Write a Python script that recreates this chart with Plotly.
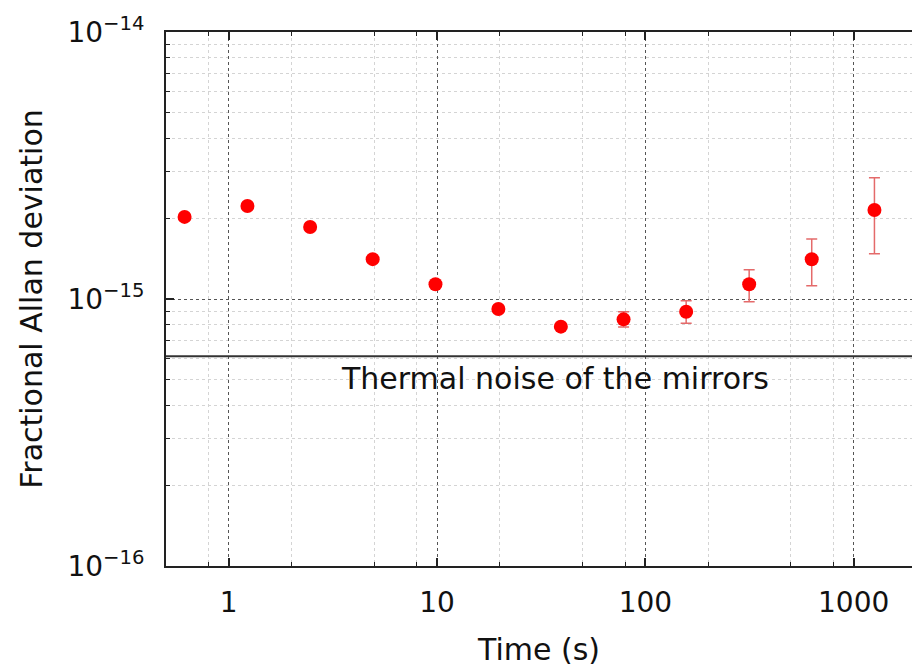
import math
import plotly.graph_objects as go

# Averaging time (s) and fractional Allan deviation
tau = [0.614, 1.23, 2.46, 4.91, 9.83, 19.7, 39.3, 78.6, 157, 315, 629, 1258]
adev = [2.03e-15, 2.23e-15, 1.86e-15, 1.41e-15, 1.135e-15, 9.17e-16,
        7.88e-16, 8.39e-16, 8.96e-16, 1.135e-15, 1.408e-15, 2.155e-15]
err_plus = [0, 0, 0, 0, 0, 0, 0, 0.57e-16, 0.89e-16, 1.52e-16, 2.70e-16, 6.92e-16]
err_minus = [0, 0, 0, 0, 0, 0, 0, 0.53e-16, 0.85e-16, 1.58e-16, 2.87e-16, 6.77e-16]

# Thermal noise floor of the cavity mirrors
thermal_floor = 6.1e-16
thermal_label = "Thermal noise of the mirrors"

# Axis ticks
x_tickvals = [1, 10, 100, 1000]
x_ticktext = ["1", "10", "100", "1000"]
x_minorvals = [0.8, 2, 5, 8, 20, 50, 80, 200, 500, 800]
y_tickvals = [1e-16, 1e-15, 1e-14]
y_ticktext = ["10<sup>\u221216</sup>", "10<sup>\u221215</sup>", "10<sup>\u221214</sup>"]
y_minorvals = [m * 1e-16 for m in range(2, 10)] + [m * 1e-15 for m in range(2, 10)]

FONT = "DejaVu Sans"
x_range = [math.log10(0.5), math.log10(0.5) + 3.581]

fig = go.Figure()

fig.add_trace(go.Scatter(
    x=tau, y=adev, mode="markers",
    marker=dict(color="#ff0000", size=14, line=dict(width=0)),
    error_y=dict(type="data", symmetric=False, array=err_plus, arrayminus=err_minus,
                 color="#e46a6a", thickness=1.5, width=5.5),
    showlegend=False,
))

fig.add_trace(go.Scatter(
    x=[10 ** x_range[0], 10 ** x_range[1]], y=[thermal_floor, thermal_floor],
    mode="lines", line=dict(color="#333333", width=2),
    showlegend=False, hoverinfo="skip",
))

fig.add_annotation(
    x=0.5214, xref="paper", y=math.log10(thermal_floor), yref="y",
    yanchor="top", xanchor="center", yshift=-3,
    text=thermal_label, showarrow=False,
    font=dict(family=FONT, size=30, color="#111111"),
)

axis_common = dict(
    type="log",
    showline=True, linecolor="#222222", linewidth=2,
    ticks="inside", ticklen=8, tickwidth=1.5, tickcolor="#222222",
    showgrid=True, gridcolor="#555555", griddash="dot", gridwidth=1,
    tickfont=dict(family=FONT, size=28, color="#111111"),
    zeroline=False,
)

fig.update_xaxes(
    **axis_common,
    mirror="ticks",
    range=x_range,
    tickmode="array", tickvals=x_tickvals, ticktext=x_ticktext,
    ticklabelstandoff=10,
    minor=dict(tickmode="array", tickvals=x_minorvals, ticks="inside", ticklen=4,
               tickwidth=1.2, tickcolor="#222222",
               showgrid=True, gridcolor="#d4d4d4", griddash="dot", gridwidth=1),
    title=dict(text="Time (s)", font=dict(family=FONT, size=30, color="#111111"), standoff=21),
)

fig.update_yaxes(
    **axis_common,
    mirror=False,
    range=[-16, -14],
    tickmode="array", tickvals=y_tickvals, ticktext=y_ticktext,
    ticklabelstandoff=14,
    minor=dict(tickmode="array", tickvals=y_minorvals, ticks="inside", ticklen=4,
               tickwidth=1.2, tickcolor="#222222",
               showgrid=True, gridcolor="#d4d4d4", griddash="dot", gridwidth=1),
    title=dict(text="Fractional Allan deviation", font=dict(family=FONT, size=30, color="#111111"),
               standoff=16),
)

fig.update_layout(
    width=912, height=668,
    margin=dict(l=166, r=0, t=32, b=102),
    paper_bgcolor="white", plot_bgcolor="white",
    font=dict(family=FONT),
)

fig.write_html("out.html")
